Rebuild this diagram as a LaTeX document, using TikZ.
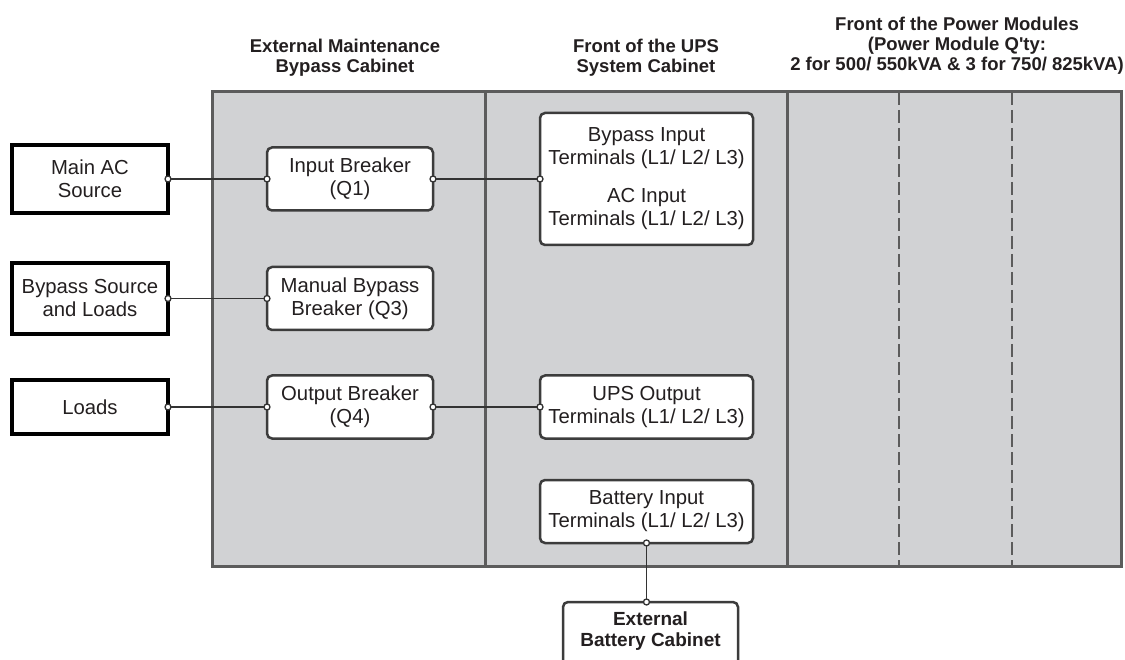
\documentclass[tikz,border=0pt]{standalone}
\usepackage{fontspec}
\setmainfont{Liberation Sans}
\newfontfamily\lsfam{Liberation Sans}
\newcommand\txtbox{\lsfam\fontsize{20.3}{23}\selectfont}
\newcommand\txthdr{\lsfam\bfseries\fontsize{18.5}{20}\selectfont}
\newcommand\txtbat{\lsfam\bfseries\fontsize{19}{21}\selectfont}
\definecolor{panelfill}{HTML}{D1D2D4}
\definecolor{paneledge}{HTML}{5C5C5C}
\definecolor{boxedge}{HTML}{3C3C3C}
\definecolor{wirec}{HTML}{333333}
\definecolor{txt}{HTML}{231F20}
\begin{document}
\begin{tikzpicture}[x=1pt,y=-1pt,
  every node/.style={inner sep=0pt, outer sep=0pt, text=txt},
  src/.style={draw=black, line width=3.5pt, fill=white, minimum width=156pt, align=center, font=\txtbox},
  brk/.style={draw=boxedge, line width=2.5pt, fill=white, rounded corners=5pt, align=center, font=\txtbox},
  hdr/.style={align=center, font=\txthdr},
  panel/.style={draw=paneledge, line width=3pt, fill=panelfill},
  divider/.style={draw=paneledge, line width=3pt},
  moddiv/.style={draw=paneledge, line width=2.2pt, dash pattern=on 13pt off 5pt},
  wire/.style={draw=wirec, line width=1.8pt},
  dotc/.style={draw=wirec, fill=white, line width=1.3pt}]

\useasboundingbox (0,0) rectangle (1125,660);
\fill[white] (0,0) rectangle (1125,660);

% cabinet panel
\draw[panel] (212,92) rectangle (1121,566);
\draw[divider] (485,92) -- (485,566);
\draw[divider] (787,92) -- (787,566);
\draw[moddiv] (899,92) -- (899,566);
\draw[moddiv] (1012,92) -- (1012,566);

% headers
\node[hdr] (hext) at (345,58) {External Maintenance\\Bypass Cabinet};
\node[hdr] (hups) at (646,58) {Front of the UPS\\System Cabinet};
\node[hdr] (hpm) at (957,45.5) {Front of the Power Modules\\(Power Module Q'ty:\\2 for 500/ 550kVA \& 3 for 750/ 825kVA)};

% sources
\node[src, minimum height=68pt] (mainac) at (90,179) {Main AC\\Source};
\node[src, minimum height=71pt] (bypsrc) at (90,298.5) {Bypass Source\\and Loads};
\node[src, minimum height=54pt] (loads) at (90,407) {Loads};

% breakers
\node[brk, minimum width=166pt, minimum height=63pt] (q1) at (350,179) {Input Breaker\\(Q1)};
\node[brk, minimum width=166pt, minimum height=63pt] (q3) at (350,298.5) {Manual Bypass\\Breaker (Q3)};
\node[brk, minimum width=166pt, minimum height=63pt] (q4) at (350,407) {Output Breaker\\(Q4)};

% UPS terminals
\node[brk, minimum width=213pt, minimum height=132pt] (bypin) at (646.5,179) {Bypass Input\\Terminals (L1/ L2/ L3)\\[15pt]AC Input\\Terminals (L1/ L2/ L3)};
\node[brk, minimum width=213pt, minimum height=63pt] (upsout) at (646.5,407) {UPS Output\\Terminals (L1/ L2/ L3)};
\node[brk, minimum width=213pt, minimum height=63pt] (batin) at (646.5,511.5) {Battery Input\\Terminals (L1/ L2/ L3)};

% external battery cabinet (cut off at the bottom)
\node[brk, minimum width=175pt, minimum height=116pt] (extbat) at (650.5,660) {};
\node[align=center, font=\txtbat] (extlbl) at (650.5,631) {External\\Battery Cabinet};
\coordinate (extin) at (batin.south |- extbat.north);

% wires
\draw[wire] (mainac.east) -- (q1.west);
\draw[wire] (q1.east) -- (bypin.west);
\draw[wire] (bypsrc.east) -- (q3.west);
\draw[wire] (loads.east) -- (q4.west);
\draw[wire] (q4.east) -- (upsout.west);
\draw[wire] (batin.south) -- (extin);

% connection dots
\foreach \p in {mainac.east, q1.west, q1.east, bypin.west, bypsrc.east, q3.west, loads.east, q4.west, q4.east, upsout.west, batin.south, extin}
  \draw[dotc] (\p) circle (3pt);
\end{tikzpicture}
\end{document}
